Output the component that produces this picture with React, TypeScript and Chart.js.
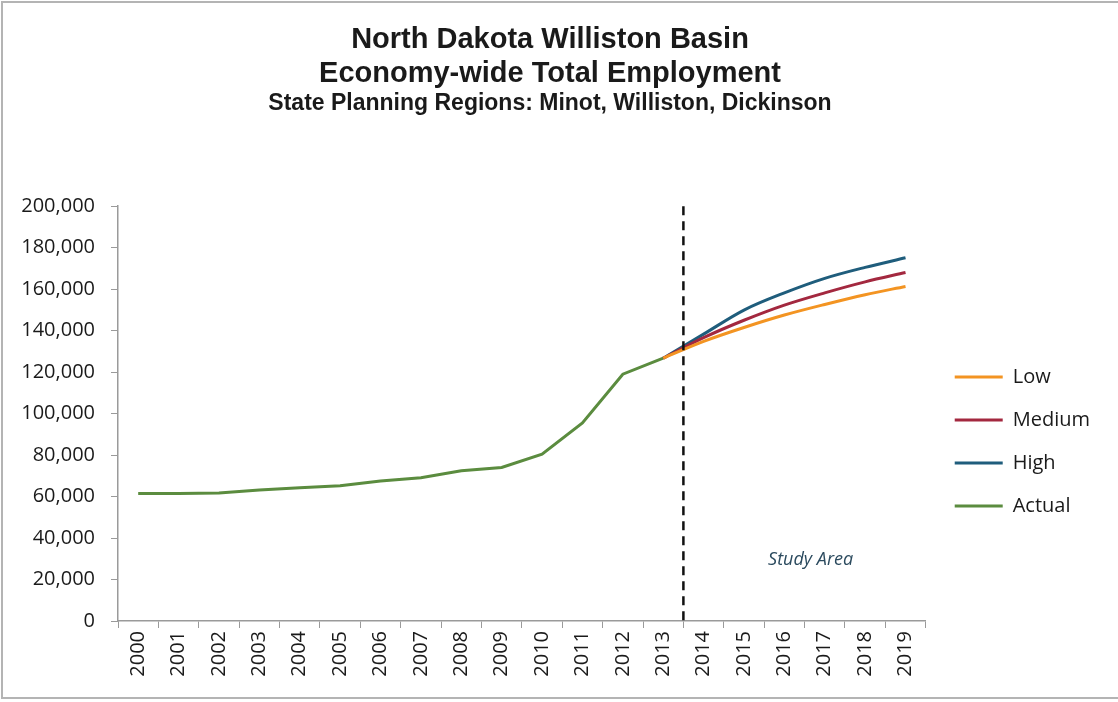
import React, { useEffect, useRef } from "react";
import { Chart, registerables } from "chart.js";

Chart.register(...registerables);

const years = ["2000","2001","2002","2003","2004","2005","2006","2007","2008","2009","2010","2011","2012","2013","2014","2015","2016","2017","2018","2019"];

const actual = [61500, 61500, 61700, 63100, 64200, 65200, 67500, 69100, 72400, 74000, 80400, 95500, 119000, 126700, null, null, null, null, null, null];
const low = [null, null, null, null, null, null, null, null, null, null, null, null, null, 126700, 134800, 141500, 147500, 152600, 157300, 161300];
const medium = [null, null, null, null, null, null, null, null, null, null, null, null, null, 126700, 136600, 145000, 152300, 158200, 163500, 168000];
const high = [null, null, null, null, null, null, null, null, null, null, null, null, null, 126700, 138300, 149900, 158200, 165200, 170500, 175100];

const titleLines = ["North Dakota Williston Basin", "Economy-wide Total Employment"];
const subtitleText = "State Planning Regions: Minot, Williston, Dickinson";
const dividerAfterIndex = 13;
const studyLabel = { text: "Study Area", index: 16.65, value: 29500 };

const yMin = 0;
const yMax = 200000;
const yStep = 20000;

const tickFont = { family: "'Open Sans', sans-serif", size: 20 };

const dividerPlugin = {
  id: "divider",
  afterDatasetsDraw(chart: any) {
    const { ctx, chartArea, scales } = chart;
    const x = (scales.x.getPixelForValue(dividerAfterIndex) + scales.x.getPixelForValue(dividerAfterIndex + 1)) / 2;
    ctx.save();
    ctx.strokeStyle = "#111";
    ctx.lineWidth = 2.5;
    ctx.setLineDash([9, 6]);
    ctx.beginPath();
    ctx.moveTo(x, chartArea.top);
    ctx.lineTo(x, chartArea.bottom);
    ctx.stroke();
    ctx.setLineDash([]);
    ctx.fillStyle = "#2b4a5e";
    ctx.font = "italic 18px 'Open Sans', sans-serif";
    ctx.textAlign = "center";
    ctx.textBaseline = "middle";
    ctx.fillText(studyLabel.text, scales.x.getPixelForValue(studyLabel.index), scales.y.getPixelForValue(studyLabel.value));
    ctx.restore();
  },
};

export default function App() {
  const ref = useRef<HTMLCanvasElement | null>(null);

  useEffect(() => {
    document.body.style.margin = "0";
    const canvas = ref.current;
    if (!canvas) return;
    const mk = (label: string, data: (number | null)[], color: string, curved: boolean) => ({
      label,
      data,
      borderColor: color,
      backgroundColor: color,
      borderWidth: 3,
      pointRadius: 0,
      pointHoverRadius: 0,
      tension: curved ? 0.4 : 0,
      cubicInterpolationMode: curved ? ("monotone" as const) : ("default" as const),
      spanGaps: false,
    });
    const chart = new Chart(canvas, {
      type: "line",
      data: {
        labels: years,
        datasets: [
          mk("Low", low, "#f39422", true),
          mk("Medium", medium, "#a3283f", true),
          mk("High", high, "#1f5d7c", true),
          mk("Actual", actual, "#5b8c3f", false),
        ],
      },
      options: {
        responsive: false,
        animation: false,
        layout: { padding: { left: 0, top: 0, right: 18, bottom: 0 } },
        plugins: {
          title: {
            display: true,
            text: titleLines,
            color: "#1a1a1a",
            font: { family: "'Liberation Sans', Arial, sans-serif", size: 29, weight: "bold", lineHeight: 1.17 },
            padding: { top: 23, bottom: 0 },
          },
          subtitle: {
            display: true,
            text: subtitleText,
            color: "#1a1a1a",
            font: { family: "'Liberation Sans', Arial, sans-serif", size: 23, weight: "bold", lineHeight: 1.1 },
            padding: { top: 0, bottom: 90 },
          },
          legend: {
            display: true,
            position: "right",
            align: "center",
            fullSize: false,
            title: {
              display: true,
              text: " ",
              font: { family: "'Open Sans', sans-serif", size: 20, lineHeight: 1.2 },
              padding: { top: 32, bottom: 0 },
            },
            labels: {
              boxWidth: 48,
              boxHeight: 0,
              padding: 23,
              color: "#1a1a1a",
              font: { family: "'Open Sans', sans-serif", size: 20 },
            },
          },
          tooltip: { enabled: false },
        },
        scales: {
          x: {
            type: "category",
            offset: true,
            grid: { display: true, drawOnChartArea: false, drawTicks: true, tickLength: 7, offset: true, color: "#9a9a9a" },
            border: { display: true, color: "#9a9a9a", width: 1.5 },
            ticks: { autoSkip: false, maxRotation: 90, minRotation: 90, padding: 3, color: "#1a1a1a", font: tickFont },
            afterFit: (s: any) => { s.height = 81; },
          },
          y: {
            type: "linear",
            min: yMin,
            max: yMax,
            grid: { display: true, drawOnChartArea: false, drawTicks: true, tickLength: 7, color: "#9a9a9a" },
            border: { display: true, color: "#9a9a9a", width: 1.5 },
            ticks: {
              stepSize: yStep,
              padding: 16,
              color: "#1a1a1a",
              font: tickFont,
              callback: (v: any) => Number(v).toLocaleString("en-US"),
            },
            afterFit: (s: any) => { s.width = 118; },
          },
          gap: {
            type: "linear",
            position: "right",
            display: true,
            grid: { display: false, drawTicks: false },
            border: { display: false },
            ticks: { display: false },
            afterFit: (s: any) => { s.width = 6; },
          },
        },
      },
      plugins: [dividerPlugin],
    });
    return () => chart.destroy();
  }, []);

  return (
    <div style={{ position: "relative", width: 1118, height: 702, background: "#fff" }}>
      <div
        style={{
          position: "absolute",
          left: 1,
          top: 1,
          width: 1117,
          height: 698,
          borderLeft: "2px solid #b4b4b4",
          borderTop: "2px solid #b4b4b4",
          borderBottom: "2px solid #b4b4b4",
          boxSizing: "border-box",
          pointerEvents: "none",
        }}
      />
      <canvas ref={ref} width={1118} height={702} style={{ display: "block" }} />
    </div>
  );
}
